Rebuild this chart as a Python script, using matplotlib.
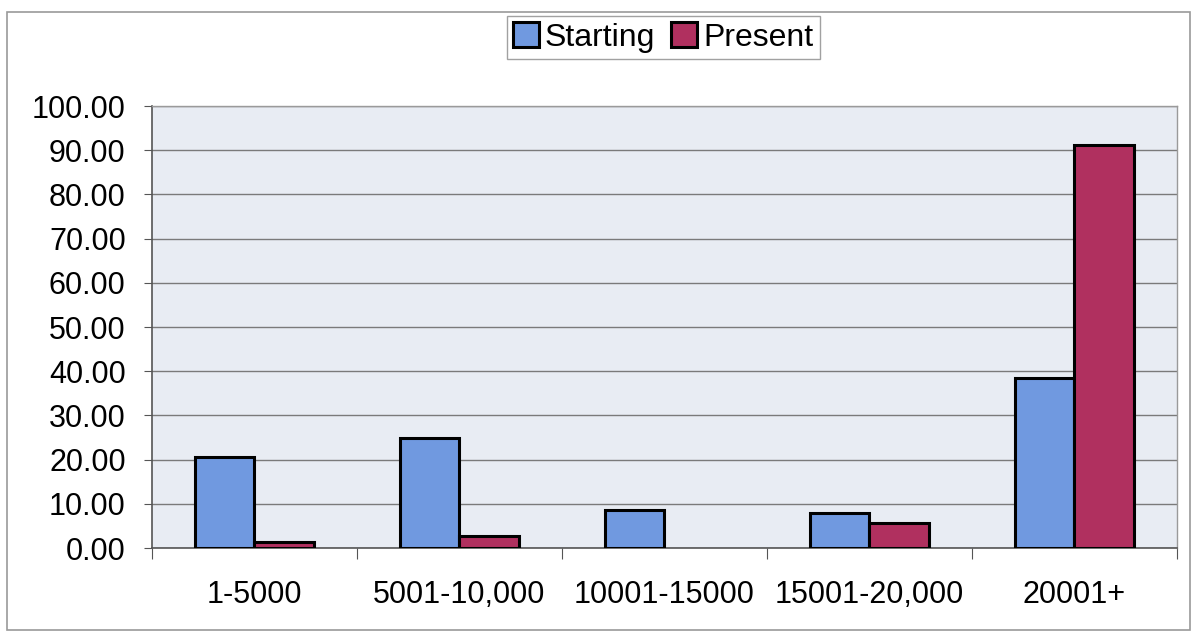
import matplotlib.pyplot as plt
import numpy as np
from matplotlib.patches import Rectangle

plt.rcParams['font.family'] = ['Liberation Sans', 'DejaVu Sans']

categories = ["1-5000", "5001-10,000", "10001-15000", "15001-20,000", "20001+"]
starting = [20.5, 24.9, 8.5, 7.9, 38.5]
present = [1.4, 2.65, 0.0, 5.6, 91.1]

starting_color = "#7099E0"
present_color = "#B0305F"

fig = plt.figure(figsize=(11.97, 6.35), dpi=100)
ax = fig.add_axes([0.127, 0.137, 0.856, 0.696])
ax.set_facecolor("#E8ECF3")

x = np.arange(len(categories))
w = 0.29
b1 = ax.bar(x - w / 2, starting, w, color=starting_color, edgecolor="black",
            linewidth=2.2, label="Starting", zorder=3)
b2 = ax.bar(x + w / 2, present, w, color=present_color, edgecolor="black",
            linewidth=2.2, label="Present", zorder=3)
# empty bars leave no outline on the axis
for p in list(b1) + list(b2):
    if p.get_height() == 0:
        p.set_linewidth(0)

ax.set_xlim(-0.5, len(categories) - 0.5)
ax.set_ylim(0, 100)
ax.set_yticks(np.arange(0, 101, 10))
ax.set_yticklabels([f"{v:.2f}" for v in np.arange(0, 101, 10)], fontsize=22)
ax.grid(axis="y", color="#7a7a7a", linewidth=1.0, zorder=1)

# category boundary ticks, labels sit in between
ax.set_xticks(np.arange(-0.5, len(categories), 1))
ax.set_xticklabels([])
ax.set_xticks(x, minor=True)
ax.set_xticklabels(categories, minor=True, fontsize=22)
ax.tick_params(axis="x", which="minor", length=0, pad=23)
ax.tick_params(axis="x", which="major", length=8, direction="out", color="#555555")
ax.tick_params(axis="y", length=6, direction="out", color="#555555", pad=13)

for side in ["top", "right"]:
    ax.spines[side].set_color("#9a9a9a")
    ax.spines[side].set_linewidth(1.0)
for side in ["left", "bottom"]:
    ax.spines[side].set_color("#555555")
    ax.spines[side].set_linewidth(1.2)

leg = fig.legend(loc="center", bbox_to_anchor=(0.554, 0.941), ncol=2,
                 fontsize=23, frameon=True, fancybox=False, edgecolor="#8a8a8a",
                 handlelength=0.8, handleheight=0.8, handletextpad=0.2,
                 columnspacing=0.5, borderpad=0.2, borderaxespad=0)
leg.get_frame().set_linewidth(1.0)

# outer chart border
fig.patches.append(Rectangle((7 / 1197, 5 / 635), 1183 / 1197, 618 / 635,
                             transform=fig.transFigure, fill=False,
                             edgecolor="#9a9a9a", linewidth=1.2))

fig.savefig("out.png", dpi=100)
